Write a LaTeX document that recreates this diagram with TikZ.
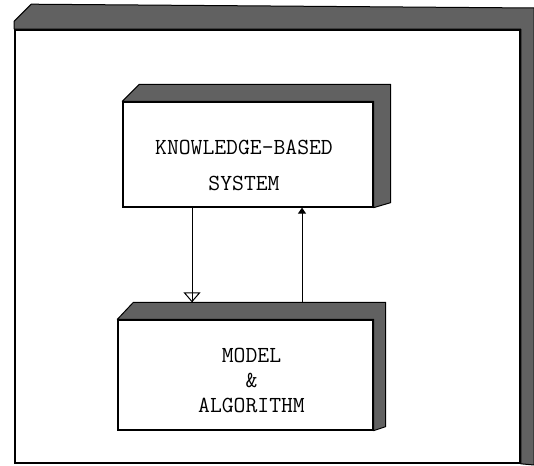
\documentclass[tikz,border=0pt]{standalone}
\usetikzlibrary{calc,arrows.meta}
\begin{document}
\begin{tikzpicture}[x=1pt, y=1pt]

% Fix the size of the page
\useasboundingbox (0,0) rectangle (534,465);

% Define styles for blocks, texts, shaded faces and arrows
\tikzstyle{block} = [draw, rectangle, line width=1.3pt, inner sep=0pt]
\tikzstyle{words} = [align=center, font=\ttfamily\fontsize{23}{25}\selectfont]
\tikzstyle{face} = [fill=black!62, draw=black, line width=1pt, line join=round]
\tikzstyle{flow} = [line width=1pt]

% Outer frame with its top and right faces
\node[block, line width=1.6pt, minimum width=505pt, minimum height=433pt] (frame) at (267.5,218.5) {};
\filldraw[face] (frame.north west) -- ++(0,8) -- ++(17,17) -- (534,457) -- (534,0)
    -- (frame.south east) -- (frame.north east) -- cycle;

% The two blocks
\node[block, minimum width=250pt, minimum height=105pt] (kbs) at (248,310.5) {};
\filldraw[face] (kbs.north west) -- ++(17,17) -- ($(kbs.north east)+(17,17)$)
    -- ($(kbs.south east)+(17,5)$) -- (kbs.south east) -- (kbs.north east) -- cycle;
\node[words] (kbs text) at ($(kbs)+(-4,-11)$) {KNOWLEDGE-BASED\\[11pt]SYSTEM};

\node[block, minimum width=255pt, minimum height=110pt] (mod) at (245.5,90) {};
\filldraw[face] (mod.north west) -- ++(16,17) -- ($(mod.north east)+(12,17)$)
    -- ($(mod.south east)+(12,4)$) -- (mod.south east) -- (mod.north east) -- cycle;
\node[words] (mod text) at ($(mod)+(6,-5)$) {MODEL\\\&\\ALGORITHM};

% Arrows between the blocks
\coordinate (down) at (192,0);
\coordinate (up) at (302,0);
\coordinate (mod top) at ($(mod.north)+(0,17)$);
\draw[flow] (kbs.south -| down) -- (mod top -| down);
\draw[flow, -{Triangle[open, length=10pt, width=17pt]}] (kbs.south -| down) -- (mod top -| down);
\draw[flow, -{Triangle[length=6pt, width=8pt]}] (mod top -| up) -- (kbs.south -| up);

\end{tikzpicture}
\end{document}
